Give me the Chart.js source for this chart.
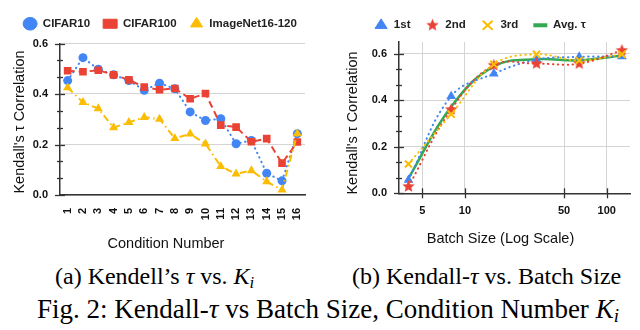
<!DOCTYPE html>
<html>
<head>
<meta charset="utf-8">
<script src="https://cdn.jsdelivr.net/npm/chart.js@4.4.0/dist/chart.umd.min.js"></script>
<style>
html,body{margin:0;padding:0;background:#fff;}
#wrap{position:relative;width:640px;height:330px;overflow:hidden;}
.cv{position:absolute;top:0;width:320px;height:250px;}
#boxA{left:0} #boxB{left:320px}
.cap{position:absolute;font-family:"Liberation Serif","Times New Roman",serif;color:#000;white-space:nowrap;line-height:1;}
.cap i{font-style:italic}
.cap sub{font-size:70%;line-height:0;vertical-align:-0.22em}
</style>
</head>
<body>
<div id="wrap">
  <div class="cv" id="boxA"><canvas id="chartA" width="320" height="250"></canvas></div>
  <div class="cv" id="boxB"><canvas id="chartB" width="320" height="250"></canvas></div>
  <div class="cap" style="left:55px;top:264px;font-size:24px">(a) Kendell’s <i>τ</i> vs. <i>K<sub>i</sub></i></div>
  <div class="cap" style="left:352px;top:264px;font-size:24px">(b) Kendall-<i>τ</i> vs. Batch Size</div>
  <div class="cap" style="left:37px;top:296px;font-size:27px">Fig. 2: Kendall-<i>τ</i> vs Batch Size, Condition Number <i>K<sub>i</sub></i></div>
</div>
<script>
// (a) Kendall's tau vs condition number
const conditionLabels = ['1','2','3','4','5','6','7','8','9','10','11','12','13','14','15','16'];
const cifar10  = [0.453,0.544,0.498,0.476,0.453,0.415,0.443,0.421,0.329,0.295,0.302,0.203,0.216,0.086,0.056,0.243];
const cifar100 = [0.492,0.488,0.494,0.476,0.456,0.427,0.417,0.422,0.381,0.402,0.277,0.269,0.211,0.223,0.126,0.210];
const imagenet = [0.425,0.367,0.342,0.267,0.288,0.308,0.301,0.224,0.242,0.203,0.113,0.084,0.097,0.053,0.020,0.243];
const tauTicks = [0, 0.2, 0.4, 0.6];

// (b) Kendall's tau vs batch size
const batchSizes = [4, 8, 16, 32, 64, 128];
const first  = [0.057,0.417,0.514,0.574,0.586,0.588];
const second = [0.029,0.360,0.550,0.557,0.557,0.614];
const third  = [0.126,0.340,0.554,0.597,0.571,0.597];
const avgTau = [0.065,0.372,0.545,0.576,0.571,0.592];
const batchTicks = [5, 10, 50, 100];

const BLUE='#4285F4', RED='#EA4335', YEL='#FBBC04', GREEN='#34A853';
const SANS='"Liberation Sans", Arial, sans-serif';
const tickFont = {family:SANS, size:11, weight:'bold'};

// minor tick marks: 3 per major step
function minorOf(majors){
  const out=[];
  for(let i=0;i<majors.length-1;i++){
    const a=majors[i], b=majors[i+1];
    out.push(a+(b-a)/3, a+2*(b-a)/3);
  }
  return out;
}

// filled 5-point star marker
function starImg(color, r){
  const s=Math.ceil(r*2+2), c=document.createElement('canvas');
  c.width=s; c.height=s;
  const g=c.getContext('2d'); g.fillStyle=color; g.beginPath();
  for(let i=0;i<10;i++){
    const rr = i%2 ? r*0.45 : r, a = -Math.PI/2 + i*Math.PI/5;
    g.lineTo(s/2+rr*Math.cos(a), s/2+rr*Math.sin(a));
  }
  g.closePath(); g.fill();
  return c;
}

const axisDecor = {
  id:'axisDecor',
  beforeInit(chart, args, o){
    // extra gap under the legend
    const lg = chart.legend, fit = lg.fit;
    lg.fit = function(){ fit.call(this); this.height += (o.legendGap||0); };
  },
  afterDraw(chart, args, o){
    const {ctx, chartArea:ca, scales:{x,y}} = chart;
    ctx.save();
    ctx.strokeStyle='#333'; ctx.lineWidth=1.3;
    const seg=(x1,y1,x2,y2)=>{ctx.beginPath();ctx.moveTo(x1,y1);ctx.lineTo(x2,y2);ctx.stroke();};
    (o.yMajor||[]).forEach(v=>{const p=Math.round(y.getPixelForValue(v))+0.5; seg(ca.left-5,p,ca.left+5,p);});
    (o.yMinor||[]).forEach(v=>{const p=Math.round(y.getPixelForValue(v))+0.5; seg(ca.left-3,p,ca.left+3,p);});
    (o.xMajor||[]).forEach(v=>{const p=Math.round(x.getPixelForValue(v))+0.5; seg(p,ca.bottom-5,p,ca.bottom+5);});
    ctx.fillStyle='#111'; ctx.font='14.5px '+SANS; ctx.textAlign='center'; ctx.textBaseline='middle';
    ctx.fillText(o.xTitle.text, o.xTitle.cx, o.xTitle.cy);
    ctx.translate(o.yTitle.cx, o.yTitle.cy); ctx.rotate(-Math.PI/2);
    ctx.fillText(o.yTitle.text, 0, 0);
    ctx.restore();
  }
};

function legendOpts(padding){
  return {
    position:'top',
    labels:{
      usePointStyle:true, pointStyleWidth:14, boxHeight:9, padding:padding,
      font:{family:SANS, size:11.5, weight:'bold'}, color:'#222',
      sort:(a,b)=>a.datasetIndex-b.datasetIndex,
      generateLabels(chart){
        const items = Chart.defaults.plugins.legend.labels.generateLabels(chart);
        items.forEach(it=>{ it.lineDash=[]; it.lineWidth = it.pointStyle==='line' ? 4 : (it.pointStyle==='crossRot'?2:1); });
        return items;
      }
    }
  };
}

const yScale = (max, w) => ({
  min:0, max:max,
  afterBuildTicks:s=>{ s.ticks = tauTicks.map(v=>({value:v})); },
  afterFit:s=>{ s.width=w; },
  ticks:{ font:tickFont, color:'#111', padding:12, callback:v=>Number(v).toFixed(1) },
  grid:{ color:'#d4d4d4', drawTicks:false },
  border:{ color:'#333', width:1.5 }
});
// empty right-hand spacer axis, keeps the legend on one row
const spacer = w => ({ position:'right', display:true, afterFit:s=>{ s.width=w; },
  ticks:{display:false}, grid:{display:false, drawTicks:false}, border:{display:false} });

new Chart(document.getElementById('chartA'), {
  type:'line',
  data:{
    labels:conditionLabels,
    datasets:[
      {label:'CIFAR10', data:cifar10, order:2, borderColor:BLUE, backgroundColor:BLUE, borderWidth:2,
       borderDash:[0.5,4.5], borderCapStyle:'round', pointStyle:'circle', pointRadius:4.5, pointBorderWidth:0,
       pointBackgroundColor:BLUE, tension:0},
      {label:'CIFAR100', data:cifar100, order:1, borderColor:RED, backgroundColor:RED, borderWidth:2,
       borderDash:[7,4], pointStyle:'rect', pointRadius:5.4, pointBorderWidth:0, pointBackgroundColor:RED, tension:0},
      {label:'ImageNet16-120', data:imagenet, order:0, borderColor:YEL, backgroundColor:YEL, borderWidth:2,
       borderDash:[7,3.5,1.5,3.5], pointStyle:'triangle', pointRadius:5.3, pointBorderWidth:0, pointBackgroundColor:YEL, tension:0}
    ]
  },
  options:{
    responsive:false, animation:false,
    layout:{padding:{left:0,right:0,top:5,bottom:0}},
    plugins:{
      legend:legendOpts(13), tooltip:{enabled:false},
      axisDecor:{ legendGap:4, yMajor:tauTicks, yMinor:minorOf(tauTicks),
        xTitle:{text:'Condition Number', cx:166, cy:243.5},
        yTitle:{text:'Kendall\'s τ Correlation', cx:20, cy:122} }
    },
    scales:{
      x:{ offset:true, afterFit:s=>{ s.height=55; },
          ticks:{ font:tickFont, color:'#111', minRotation:90, maxRotation:90, autoSkip:false, padding:5 },
          grid:{ display:false }, border:{ color:'#333', width:1.5 } },
      y:yScale(0.6, 60),
      yr:spacer(15)
    }
  },
  plugins:[axisDecor]
});

new Chart(document.getElementById('chartB'), {
  type:'line',
  data:{
    labels:batchSizes,
    datasets:[
      {label:'1st', data:first, order:3, borderColor:BLUE, backgroundColor:BLUE, borderWidth:2,
       borderDash:[0.5,4.5], borderCapStyle:'round', pointStyle:'triangle', pointRadius:5.6, pointBorderWidth:0,
       pointBackgroundColor:BLUE, tension:0.4},
      {label:'2nd', data:second, order:2, borderColor:RED, backgroundColor:RED, borderWidth:2,
       borderDash:[0.5,4.5], borderCapStyle:'round', pointStyle:starImg(RED,6.5), pointRadius:6, tension:0.4},
      {label:'3rd', data:third, order:1, borderColor:YEL, backgroundColor:YEL, borderWidth:2,
       borderDash:[0.5,4.5], borderCapStyle:'round', pointStyle:'crossRot', pointRadius:5, pointBorderWidth:2,
       pointBorderColor:YEL, tension:0.4},
      {label:'Avg. τ', data:avgTau, order:4, borderColor:GREEN, backgroundColor:GREEN, borderWidth:2.5,
       pointStyle:'line', pointRadius:0, tension:0.4}
    ]
  },
  options:{
    responsive:false, animation:false,
    layout:{padding:{left:0,right:0,top:4.5,bottom:0}},
    plugins:{
      legend:legendOpts(15), tooltip:{enabled:false},
      axisDecor:{ legendGap:1, yMajor:tauTicks, yMinor:minorOf(tauTicks), xMajor:batchTicks,
        xTitle:{text:'Batch Size (Log Scale)', cx:180.5, cy:238.5},
        yTitle:{text:'Kendall\'s τ Correlation', cx:33, cy:123} }
    },
    scales:{
      x:{ type:'logarithmic', min:3.43, max:146,
          afterBuildTicks:s=>{ s.ticks = batchTicks.map(v=>({value:v})); },
          afterFit:s=>{ s.height=56.7; },
          ticks:{ font:tickFont, color:'#111', padding:11, maxRotation:0, autoSkip:false, callback:v=>String(v) },
          grid:{ color:'#d4d4d4', drawTicks:false }, border:{ color:'#333', width:1.5 } },
      y:yScale(0.65, 79),
      yr:spacer(10)
    }
  },
  plugins:[axisDecor]
});
</script>
</body>
</html>
